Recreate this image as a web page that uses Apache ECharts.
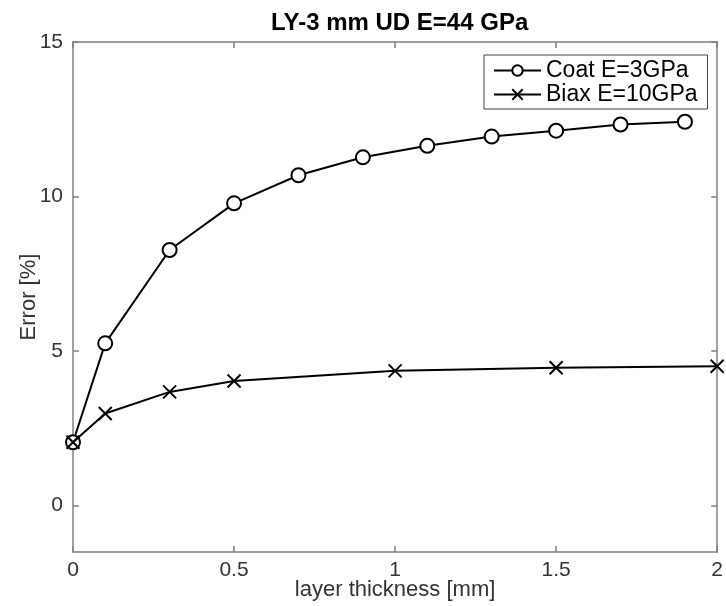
<!DOCTYPE html>
<html>
<head>
<meta charset="utf-8">
<script src="https://cdn.jsdelivr.net/npm/echarts@6/dist/echarts.min.js"></script>
<style>
html,body{margin:0;padding:0;background:#fff;}
#chart{width:726px;height:606px;}
</style>
</head>
<body>
<div id="chart"></div>
<script>
const titleText = 'LY-3 mm UD E=44 GPa';
const xName = 'layer thickness [mm]';
const yName = 'Error [%]';
const coatName = 'Coat E=3GPa';
const biaxName = 'Biax E=10GPa';
const coatX = [0, 0.1, 0.3, 0.5, 0.7, 0.9, 1.1, 1.3, 1.5, 1.7, 1.9];
const coatY = [2.05, 5.25, 8.27, 9.78, 10.69, 11.27, 11.64, 11.94, 12.13, 12.33, 12.42];
const biaxX = [0, 0.1, 0.3, 0.5, 1.0, 1.5, 2.0];
const biaxY = [2.05, 2.98, 3.68, 4.03, 4.36, 4.46, 4.51];
const yTicks = [0, 5, 10, 15];

const FONT = "'Liberation Sans', Arial, Helvetica, sans-serif";
const axisGray = '#808080';
const labelColor = '#333333';

const chart = echarts.init(document.getElementById('chart'), null, {renderer: 'canvas'});

const zip = (xs, ys) => xs.map((x, i) => [x, ys[i]]);

const axisLineStyle = {show: true, onZero: false, lineStyle: {color: axisGray, width: 1.5}};
const tickStyle = {show: true, inside: true, length: 6, lineStyle: {color: axisGray, width: 1.5}};

chart.setOption({
  animation: false,
  backgroundColor: '#fff',
  textStyle: {fontFamily: FONT},
  title: {
    text: titleText,
    left: 266,
    top: 6,
    textStyle: {fontFamily: FONT, fontSize: 24, fontWeight: 'bold', color: '#000'}
  },
  grid: {left: 73, right: 6, top: 42, bottom: 54, containLabel: false},
  legend: {
    orient: 'vertical',
    left: 484,
    top: 55,
    padding: [4, 10, 3, 9],
    itemGap: 1,
    itemWidth: 47,
    itemHeight: 13,
    borderColor: '#404040',
    borderWidth: 1,
    backgroundColor: '#fff',
    selectedMode: false,
    textStyle: {fontFamily: FONT, fontSize: 23, color: '#000', lineHeight: 22},
    data: [coatName, biaxName]
  },
  xAxis: [{
    type: 'value',
    min: 0, max: 2, interval: 0.5,
    position: 'bottom',
    name: xName,
    nameLocation: 'middle',
    nameGap: 27,
    nameMoveOverlap: false,
    nameTextStyle: {fontFamily: FONT, fontSize: 22, color: labelColor},
    axisLine: axisLineStyle,
    axisTick: tickStyle,
    axisLabel: {fontFamily: FONT, fontSize: 21, color: labelColor, margin: 8},
    splitLine: {show: false}
  }, {
    type: 'value',
    min: 0, max: 2, interval: 0.5,
    position: 'top',
    axisLine: axisLineStyle,
    axisTick: tickStyle,
    axisLabel: {show: false},
    splitLine: {show: false}
  }],
  yAxis: [{
    type: 'value',
    min: -1.5, max: 15,
    position: 'left',
    name: yName,
    nameLocation: 'middle',
    nameGap: 33,
    nameMoveOverlap: false,
    nameTextStyle: {fontFamily: FONT, fontSize: 22, color: labelColor},
    axisLine: axisLineStyle,
    axisTick: Object.assign({}, tickStyle, {customValues: yTicks}),
    axisLabel: {fontFamily: FONT, fontSize: 21, color: labelColor, margin: 10, customValues: yTicks},
    splitLine: {show: false}
  }, {
    type: 'value',
    min: -1.5, max: 15,
    position: 'right',
    axisLine: axisLineStyle,
    axisTick: Object.assign({}, tickStyle, {customValues: yTicks}),
    axisLabel: {show: false, customValues: yTicks},
    splitLine: {show: false}
  }],
  series: [{
    name: coatName,
    type: 'line',
    xAxisIndex: 0, yAxisIndex: 0,
    data: zip(coatX, coatY),
    symbol: 'emptyCircle',
    symbolSize: 14,
    showAllSymbol: true,
    lineStyle: {color: '#000', width: 2},
    itemStyle: {color: '#000', borderColor: '#000', borderWidth: 2},
    emphasis: {disabled: true},
    z: 3
  }, {
    name: biaxName,
    type: 'line',
    xAxisIndex: 0, yAxisIndex: 0,
    data: zip(biaxX, biaxY),
    symbol: 'path://M0,0L10,10M10,0L0,10',
    symbolSize: 13,
    showAllSymbol: true,
    lineStyle: {color: '#000', width: 2},
    itemStyle: {color: '#000', borderColor: '#000', borderWidth: 2},
    emphasis: {disabled: true},
    z: 4
  }]
});
</script>
</body>
</html>
